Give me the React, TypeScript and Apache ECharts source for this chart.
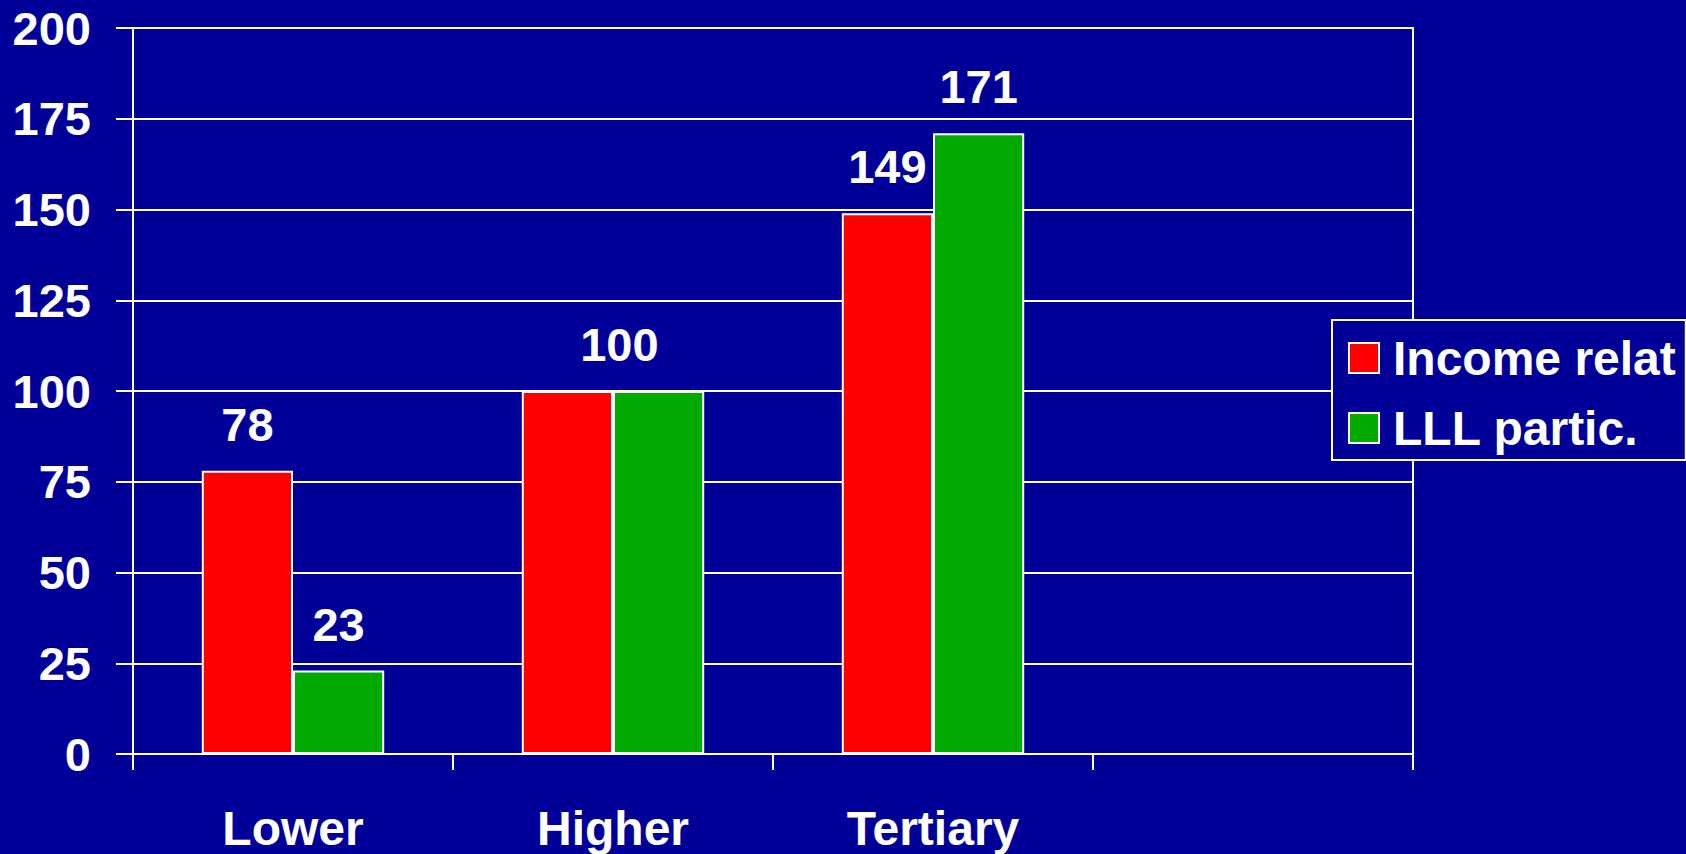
import React, { useEffect, useRef } from "react";
import * as echarts from "echarts";

const categories = ["Lower", "Higher", "Tertiary", ""];
const incomeValues = [78, 100, 149, null];
const lllValues = [23, 100, 171, null];
const yTicks = { min: 0, max: 200, interval: 25 };
const seriesNames = ["Income relat", "LLL partic."];

const FONT = "'Liberation Sans', Arial, sans-serif";
const BG = "#000099";

export default function App() {
  const ref = useRef<HTMLDivElement>(null);
  useEffect(() => {
    document.body.style.margin = "0";
    const chart = echarts.init(ref.current!, null, { renderer: "svg" });
    const labelBase = {
      show: true,
      position: "top",
      distance: 23,
      color: "#ffffff",
      fontFamily: FONT,
      fontWeight: "bold",
      fontSize: 47,
    };
    chart.setOption({
      animation: false,
      backgroundColor: BG,
      grid: {
        left: 133,
        right: 273,
        top: 28,
        bottom: 100,
        show: true,
        borderColor: "#ffffff",
        borderWidth: 2,
        backgroundColor: "transparent",
      },
      legend: {
        left: 1332,
        top: 320,
        orient: "vertical",
        backgroundColor: BG,
        borderColor: "#ffffff",
        borderWidth: 2,
        padding: [14, 10, 8, 16],
        itemGap: 22,
        itemWidth: 30,
        itemHeight: 30,
        icon: "rect",
        textStyle: {
          color: "#ffffff",
          fontFamily: FONT,
          fontWeight: "bold",
          fontSize: 48,
          padding: [0, 0, 0, 9],
        },
        data: seriesNames,
      },
      xAxis: {
        type: "category",
        data: categories,
        axisLine: { lineStyle: { color: "#ffffff", width: 2 } },
        axisTick: { show: true, length: 16, lineStyle: { color: "#ffffff", width: 2 } },
        axisLabel: {
          color: "#ffffff",
          fontFamily: FONT,
          fontWeight: "bold",
          fontSize: 48,
          margin: 50,
        },
        splitLine: { show: false },
      },
      yAxis: {
        type: "value",
        min: yTicks.min,
        max: yTicks.max,
        interval: yTicks.interval,
        axisLine: { show: true, lineStyle: { color: "#ffffff", width: 2 } },
        axisTick: { show: true, length: 17, lineStyle: { color: "#ffffff", width: 2 } },
        axisLabel: {
          color: "#ffffff",
          fontFamily: FONT,
          fontWeight: "bold",
          fontSize: 47,
          margin: 42,
        },
        splitLine: { show: true, lineStyle: { color: "#ffffff", width: 2 } },
      },
      series: [
        {
          name: seriesNames[0],
          type: "bar",
          barGap: "0%",
          barCategoryGap: "43%",
          itemStyle: { color: "#ff0000", borderColor: "#ffffff", borderWidth: 2 },
          label: labelBase,
          data: incomeValues.map((v, i) =>
            i === 1 ? { value: v, label: { ...labelBase, offset: [52, 0] } } : v
          ),
        },
        {
          name: seriesNames[1],
          type: "bar",
          barGap: "0%",
          barCategoryGap: "43%",
          itemStyle: { color: "#00aa00", borderColor: "#ffffff", borderWidth: 2 },
          label: labelBase,
          data: lllValues.map((v, i) =>
            i === 1 ? { value: v, label: { show: false } } : v
          ),
        },
      ],
    });
    return () => chart.dispose();
  }, []);
  return <div ref={ref} style={{ width: 1686, height: 854 }} />;
}
